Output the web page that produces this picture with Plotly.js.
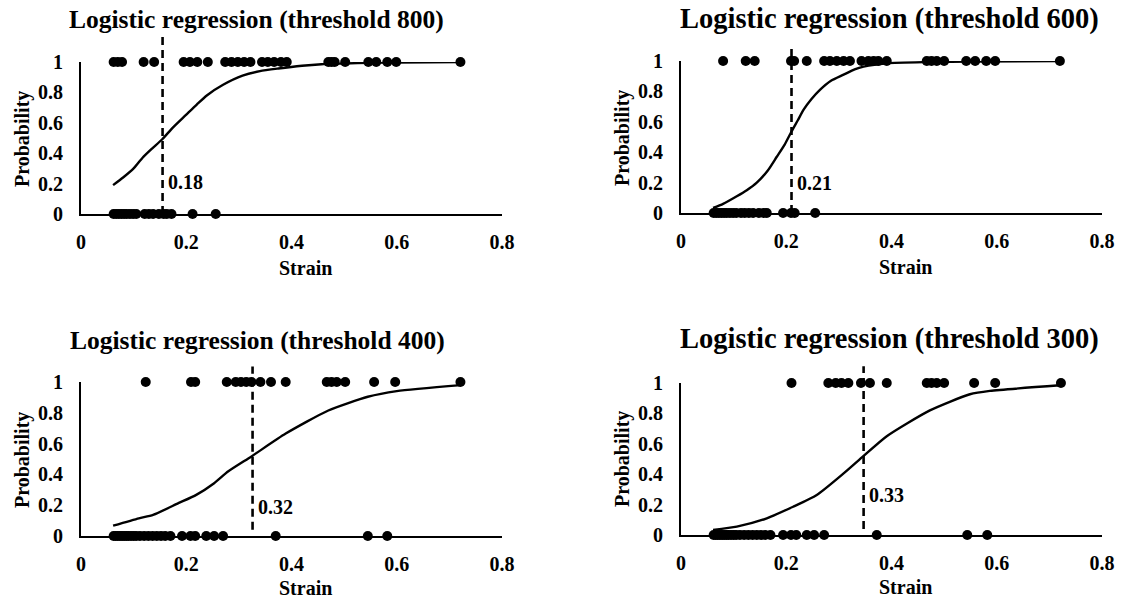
<!DOCTYPE html>
<html>
<head>
<meta charset="utf-8">
<script src="https://cdn.plot.ly/plotly-3.0.1.min.js"></script>
<style>html,body{margin:0;padding:0;background:#fff;}#chart{width:1125px;height:601px;}</style>
</head>
<body>
<div id="chart"></div>
<script>
// ---------- data ----------
const panelTitles = ["Logistic regression (threshold 800)", "Logistic regression (threshold 600)",
                     "Logistic regression (threshold 400)", "Logistic regression (threshold 300)"];
const xTickVals = [0, 0.2, 0.4, 0.6, 0.8];
const xTickText = ["0", "0.2", "0.4", "0.6", "0.8"];
const yTickVals = [0, 0.2, 0.4, 0.6, 0.8, 1];
const yTickText = ["0", "0.2", "0.4", "0.6", "0.8", "1"];
const xLabel = "Strain";
const yLabel = "Probability";

// observed strains with outcome 1 / outcome 0
const top800 = [0.062, 0.070, 0.078, 0.119, 0.139, 0.195, 0.207, 0.221, 0.241, 0.274, 0.286, 0.298, 0.310, 0.322, 0.344, 0.355, 0.367, 0.380, 0.391, 0.470, 0.476, 0.482, 0.502, 0.546, 0.561, 0.582, 0.599, 0.721];
const bot800 = [0.062, 0.067, 0.072, 0.077, 0.082, 0.087, 0.093, 0.099, 0.105, 0.121, 0.129, 0.137, 0.148, 0.157, 0.163, 0.172, 0.212, 0.256];
const top600 = [0.080, 0.123, 0.140, 0.209, 0.215, 0.239, 0.272, 0.283, 0.296, 0.309, 0.321, 0.343, 0.356, 0.366, 0.375, 0.391, 0.467, 0.476, 0.486, 0.500, 0.542, 0.559, 0.580, 0.597, 0.720];
const bot600 = [0.062, 0.067, 0.072, 0.077, 0.082, 0.087, 0.093, 0.099, 0.105, 0.114, 0.121, 0.129, 0.137, 0.148, 0.157, 0.163, 0.194, 0.209, 0.216, 0.255];
const top400 = [0.123, 0.209, 0.217, 0.277, 0.294, 0.304, 0.314, 0.324, 0.341, 0.361, 0.389, 0.467, 0.476, 0.486, 0.502, 0.557, 0.597, 0.721];
const bot400 = [0.062, 0.066, 0.070, 0.074, 0.078, 0.082, 0.086, 0.090, 0.095, 0.100, 0.105, 0.112, 0.120, 0.128, 0.136, 0.144, 0.152, 0.160, 0.170, 0.192, 0.208, 0.217, 0.238, 0.253, 0.270, 0.370, 0.545, 0.582];
const top300 = [0.210, 0.280, 0.294, 0.305, 0.318, 0.342, 0.359, 0.391, 0.467, 0.476, 0.486, 0.500, 0.557, 0.597, 0.722];
const bot300 = [0.062, 0.066, 0.070, 0.074, 0.078, 0.082, 0.086, 0.090, 0.095, 0.100, 0.105, 0.112, 0.120, 0.128, 0.136, 0.144, 0.152, 0.160, 0.170, 0.194, 0.209, 0.219, 0.239, 0.253, 0.272, 0.372, 0.544, 0.582];

// fitted logistic curves
const fit800X = [0.061, 0.080, 0.100, 0.117, 0.135, 0.154, 0.175, 0.199, 0.220, 0.239, 0.270, 0.307, 0.340, 0.375, 0.420, 0.457, 0.500, 0.550, 0.600, 0.722];
const fit800Y = [0.19, 0.24, 0.30, 0.37, 0.43, 0.49, 0.57, 0.65, 0.72, 0.78, 0.85, 0.91, 0.94, 0.957, 0.975, 0.985, 0.99, 0.995, 0.997, 1.0];
const fit600X = [0.061, 0.080, 0.106, 0.125, 0.144, 0.165, 0.182, 0.197, 0.210, 0.222, 0.233, 0.248, 0.264, 0.285, 0.309, 0.330, 0.347, 0.391, 0.473, 0.550, 0.720];
const fit600Y = [0.033, 0.06, 0.11, 0.15, 0.20, 0.28, 0.37, 0.45, 0.536, 0.61, 0.68, 0.75, 0.81, 0.87, 0.91, 0.945, 0.963, 0.985, 0.993, 0.997, 1.0];
const fit400X = [0.061, 0.110, 0.137, 0.185, 0.219, 0.253, 0.280, 0.324, 0.389, 0.470, 0.545, 0.600, 0.722];
const fit400Y = [0.067, 0.115, 0.137, 0.213, 0.267, 0.343, 0.42, 0.517, 0.665, 0.815, 0.904, 0.941, 0.98];
const fit300X = [0.061, 0.106, 0.163, 0.213, 0.258, 0.309, 0.347, 0.391, 0.473, 0.549, 0.587, 0.720];
const fit300Y = [0.033, 0.055, 0.11, 0.186, 0.263, 0.405, 0.52, 0.65, 0.82, 0.926, 0.948, 0.985];

// cut-off (dashed line) position, label, and vertical extent
const cutX = [0.155, 0.210, 0.326, 0.347];
const cutLabel = ["0.18", "0.21", "0.32", "0.33"];
const cutLabelY = [0.21, 0.20, 0.19, 0.26];
const cutY0 = [0, 0, 0.04, 0.04];
const cutY1 = [1.17, 1.11, 1.10, 1.11];

// ---------- layout helpers (styles) ----------
const FONT = "Liberation Serif, Times New Roman, serif";
const panels = [
  {top: top800, bot: bot800, fx: fit800X, fy: fit800Y},
  {top: top600, bot: bot600, fx: fit600X, fy: fit600Y},
  {top: top400, bot: bot400, fx: fit400X, fy: fit400Y},
  {top: top300, bot: bot300, fx: fit300X, fy: fit300Y}
];
const W = 1125, H = 601;
const xDom = [[81 / W, 502 / W], [681 / W, 1102 / W], [81 / W, 502 / W], [681 / W, 1102 / W]];
const yDom = [[1 - 214 / H, 1 - 62 / H], [1 - 213 / H, 1 - 61 / H], [1 - 536 / H, 1 - 382 / H], [1 - 535 / H, 1 - 383 / H]];
const titlePos = [[256, 20, 25.5], [889, 19, 28.5], [257, 340, 25.5], [889, 339, 28.5]];
const yTitlePos = [[22, 139], [622, 138], [22, 460], [622, 459]];
const xTitlePos = [[305, 268], [905, 267], [305, 588], [905, 587]];
const TXT = 20;

const traces = [];
const layout = {
  width: W, height: H,
  margin: {l: 0, r: 0, t: 0, b: 0},
  paper_bgcolor: "#ffffff", plot_bgcolor: "rgba(0,0,0,0)",
  showlegend: false,
  font: {family: FONT, color: "#000", size: TXT, weight: 700},
  shapes: [], annotations: []
};

panels.forEach((p, i) => {
  const n = i + 1;
  const xa = n === 1 ? "x" : "x" + n;
  const ya = n === 1 ? "y" : "y" + n;
  traces.push({x: p.fx, y: p.fy, xaxis: xa, yaxis: ya, type: "scatter", mode: "lines",
               line: {color: "#000", width: 2.4, shape: "spline", smoothing: 0.6}, hoverinfo: "skip"});
  traces.push({x: p.top, y: p.top.map(() => 1), xaxis: xa, yaxis: ya, type: "scatter", mode: "markers",
               marker: {color: "#000", size: 10}, cliponaxis: false});
  traces.push({x: p.bot, y: p.bot.map(() => 0), xaxis: xa, yaxis: ya, type: "scatter", mode: "markers",
               marker: {color: "#000", size: 10}, cliponaxis: false});

  layout["xaxis" + (n === 1 ? "" : n)] = {
    domain: xDom[i], anchor: ya, range: [0, 0.8], tickvals: xTickVals, ticktext: xTickText,
    showgrid: false, zeroline: false, showline: true, linecolor: "#000", linewidth: 2,
    ticks: "", ticklabelstandoff: 9, tickfont: {family: FONT, size: TXT, weight: 700, color: "#000"}
  };
  layout["yaxis" + (n === 1 ? "" : n)] = {
    domain: yDom[i], anchor: xa, range: [0, 1], tickvals: yTickVals, ticktext: yTickText,
    showgrid: false, zeroline: false, showline: true, linecolor: "#000", linewidth: 2,
    ticks: "", ticklabelstandoff: 12, tickfont: {family: FONT, size: TXT, weight: 700, color: "#000"}
  };

  layout.shapes.push({type: "line", xref: xa, yref: ya + " domain",
                      x0: cutX[i], x1: cutX[i], y0: cutY0[i], y1: cutY1[i],
                      line: {color: "#000", width: 2.6, dash: "8px,5px"}});
  layout.annotations.push({xref: xa, yref: ya, x: cutX[i], y: cutLabelY[i], text: cutLabel[i],
                           xanchor: "left", yanchor: "middle", xshift: 3, showarrow: false,
                           font: {family: FONT, size: TXT, weight: 700, color: "#000"}});
  layout.annotations.push({xref: "paper", yref: "paper", x: titlePos[i][0] / W, y: 1 - titlePos[i][1] / H,
                           text: panelTitles[i], xanchor: "center", yanchor: "middle", showarrow: false,
                           font: {family: FONT, size: titlePos[i][2], weight: 700, color: "#000"}});
  layout.annotations.push({xref: "paper", yref: "paper", x: yTitlePos[i][0] / W, y: 1 - yTitlePos[i][1] / H,
                           text: yLabel, textangle: -90, xanchor: "center", yanchor: "middle", showarrow: false,
                           font: {family: FONT, size: TXT, weight: 700, color: "#000"}});
  layout.annotations.push({xref: "paper", yref: "paper", x: xTitlePos[i][0] / W, y: 1 - xTitlePos[i][1] / H,
                           text: xLabel, xanchor: "center", yanchor: "middle", showarrow: false,
                           font: {family: FONT, size: TXT, weight: 700, color: "#000"}});
});

Plotly.newPlot("chart", traces, layout, {displayModeBar: false, staticPlot: true});
</script>
</body>
</html>
